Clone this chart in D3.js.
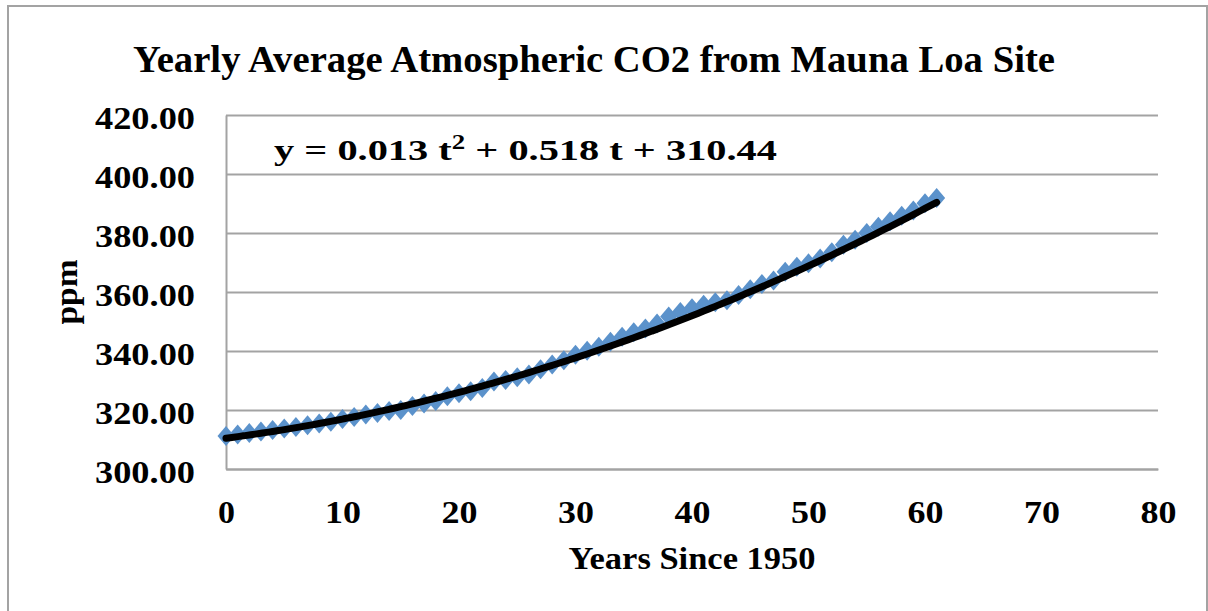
<!DOCTYPE html>
<html>
<head>
<meta charset="utf-8">
<script src="https://cdn.jsdelivr.net/npm/d3@7"></script>
<style>
  html, body { margin: 0; padding: 0; background: #fff; }
  svg { display: block; }
</style>
</head>
<body>
<div id="chart"></div>
<script>
// years since 1950 and yearly average CO2 (ppm)
const years = d3.range(0, 62);
const co2 = [
  311.2, 311.7, 312.2, 312.7, 313.2, 313.7, 314.2, 314.8, 315.4,
  315.98, 316.91, 317.64, 318.45, 318.99, 319.62, 320.04, 321.37, 322.18, 323.05,
  324.62, 325.68, 326.32, 327.46, 329.68, 330.19, 331.13, 332.03, 333.84, 335.41,
  336.84, 338.76, 340.12, 341.48, 343.15, 344.87, 346.35, 347.61, 349.31, 351.69,
  353.20, 354.45, 355.70, 356.54, 357.21, 358.96, 360.97, 362.74, 363.88, 366.84,
  368.54, 369.71, 371.32, 373.45, 375.98, 377.70, 379.98, 382.09, 384.02, 385.83,
  387.64, 390.10, 391.85
];
// polynomial trend coefficients (c0 + c1 t + c2 t^2) as printed on the chart
const trendCoef = [310.44, 0.518, 0.013];
const xTicks = [0, 10, 20, 30, 40, 50, 60, 70, 80];
const yTicks = [300, 320, 340, 360, 380, 400, 420];

const W = 1208, H = 611;
const plot = { left: 226, right: 1158, top: 115, bottom: 469 };
const font = '"Liberation Serif", "DejaVu Serif", serif';

const svg = d3.select('#chart').append('svg')
  .attr('width', W)
  .attr('height', H);

// outer chart frame
svg.append('path')
  .attr('d', `M8,${H + 2} L8,6 L1207,6 L1207,${H + 2}`)
  .attr('fill', 'none')
  .attr('stroke', '#a3a3a3')
  .attr('stroke-width', 2);

const x = d3.scaleLinear().domain([0, 80]).range([plot.left, plot.right]);
const y = d3.scaleLinear().domain([300, 420]).range([plot.bottom, plot.top]);

// horizontal gridlines
svg.append('g')
  .attr('transform', `translate(${plot.left},0)`)
  .call(d3.axisLeft(y).tickValues(yTicks).tickSize(-(plot.right - plot.left)).tickFormat(''))
  .call(g => g.select('.domain').remove())
  .call(g => g.selectAll('line').attr('stroke', '#a3a3a3').attr('stroke-width', 2));

// left axis line + labels
const yAxis = svg.append('g')
  .attr('transform', `translate(${plot.left},0)`)
  .call(d3.axisLeft(y).tickValues(yTicks).tickSize(0).tickPadding(31).tickFormat(d3.format('.2f')));
yAxis.select('.domain').attr('stroke', '#a3a3a3').attr('stroke-width', 2);
yAxis.selectAll('text')
  .attr('font-family', font)
  .attr('font-weight', 'bold')
  .attr('font-size', 31)
  .attr('fill', '#000')
  .attr('dy', '0.43em')
  .attr('textLength', 100)
  .attr('lengthAdjust', 'spacingAndGlyphs');

// bottom axis line + labels
const xAxis = svg.append('g')
  .attr('transform', `translate(0,${plot.bottom})`)
  .call(d3.axisBottom(x).tickValues(xTicks).tickSize(0).tickFormat(d3.format('d')));
xAxis.select('.domain').attr('stroke', '#a3a3a3').attr('stroke-width', 2);
xAxis.selectAll('text')
  .attr('font-family', font)
  .attr('font-weight', 'bold')
  .attr('font-size', 31)
  .attr('fill', '#000')
  .attr('y', 54)
  .attr('dy', 0)
  .attr('textLength', d => d === 0 ? 17 : 36)
  .attr('lengthAdjust', 'spacingAndGlyphs');

// data markers
svg.append('g')
  .selectAll('path')
  .data(years)
  .enter()
  .append('path')
  .attr('transform', (d, i) => `translate(${x(d)},${y(co2[i])})`)
  .attr('d', 'M0,-10 L8.5,0 L0,10 L-8.5,0 Z')
  .attr('fill', '#5b92cb');

// trend line
const trendT = d3.range(0, 61.01, 0.5);
const poly = t => trendCoef[0] + trendCoef[1] * t + trendCoef[2] * t * t;
svg.append('path')
  .datum(trendT)
  .attr('d', d3.line().x(t => x(t)).y(t => y(poly(t))).curve(d3.curveMonotoneX))
  .attr('fill', 'none')
  .attr('stroke', '#000')
  .attr('stroke-width', 7)
  .attr('stroke-linecap', 'round');

// title
svg.append('text')
  .attr('x', 133)
  .attr('y', 72)
  .attr('font-family', font)
  .attr('font-weight', 'bold')
  .attr('font-size', 37)
  .attr('textLength', 922)
  .attr('lengthAdjust', 'spacingAndGlyphs')
  .text('Yearly Average Atmospheric CO2 from Mauna Loa Site');

// trendline equation
const eq = svg.append('text')
  .attr('x', 274)
  .attr('y', 160)
  .attr('font-family', font)
  .attr('font-weight', 'bold')
  .attr('font-size', 30)
  .attr('textLength', 503)
  .attr('lengthAdjust', 'spacingAndGlyphs');
eq.append('tspan').text(`y = ${trendCoef[2].toFixed(3)} t`);
eq.append('tspan').attr('dy', -11).attr('font-size', 20).text('2');
eq.append('tspan').attr('dy', 11).text(` + ${trendCoef[1].toFixed(3)} t + ${trendCoef[0].toFixed(2)}`);

// axis titles
svg.append('text')
  .attr('x', 692)
  .attr('y', 569)
  .attr('text-anchor', 'middle')
  .attr('font-family', font)
  .attr('font-weight', 'bold')
  .attr('font-size', 31)
  .attr('textLength', 247)
  .attr('lengthAdjust', 'spacingAndGlyphs')
  .text('Years Since 1950');

svg.append('text')
  .attr('transform', 'translate(77,292) rotate(-90)')
  .attr('text-anchor', 'middle')
  .attr('font-family', font)
  .attr('font-weight', 'bold')
  .attr('font-size', 31)
  .attr('textLength', 65)
  .attr('lengthAdjust', 'spacingAndGlyphs')
  .text('ppm');
</script>
</body>
</html>
